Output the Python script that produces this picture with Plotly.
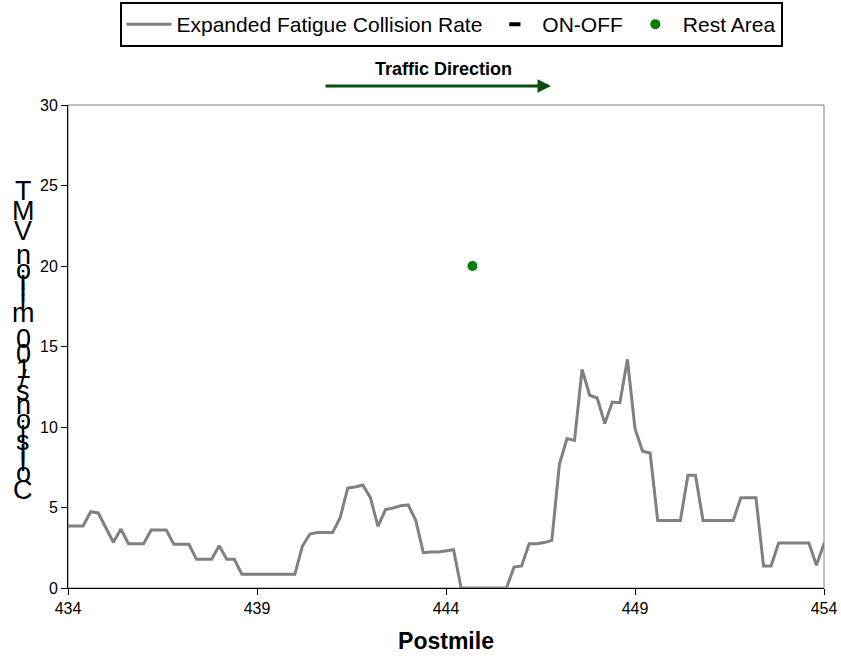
import plotly.graph_objects as go

# Data
postmile = [
    434.0, 434.4, 434.6, 434.8, 435.2, 435.4, 435.6, 436.0, 436.2, 436.6,
    436.8, 437.2, 437.4, 437.8, 438.0, 438.2, 438.4, 438.6, 440.0, 440.2,
    440.4, 440.6, 441.0, 441.2, 441.4, 441.6, 441.8, 442.0, 442.2, 442.4,
    442.6, 442.8, 443.0, 443.2, 443.4, 443.6, 443.8, 444.2, 444.4, 445.6,
    445.8, 446.0, 446.2, 446.4, 446.6, 446.8, 447.0, 447.2, 447.4, 447.6,
    447.8, 448.0, 448.2, 448.4, 448.6, 448.8, 449.0, 449.2, 449.4, 449.6,
    450.2, 450.4, 450.6, 450.8, 451.6, 451.8, 452.2, 452.4, 452.6, 452.8,
    453.6, 453.8, 454.0, 454.2,
]
collision_rate = [
    3.85, 3.85, 4.74, 4.66, 2.84, 3.66, 2.75, 2.75, 3.6, 3.6,
    2.71, 2.71, 1.78, 1.78, 2.63, 1.78, 1.78, 0.85, 0.85, 2.59,
    3.35, 3.44, 3.44, 4.37, 6.21, 6.27, 6.4, 5.61, 3.83, 4.87,
    4.97, 5.11, 5.16, 4.2, 2.19, 2.24, 2.24, 2.38, 0.0, 0.0,
    1.3, 1.37, 2.75, 2.75, 2.82, 2.96, 7.68, 9.28, 9.17, 13.58,
    11.97, 11.8, 10.21, 11.55, 11.51, 14.2, 9.9, 8.49, 8.39, 4.2,
    4.2, 7.0, 7.0, 4.2, 4.2, 5.61, 5.61, 1.37, 1.37, 2.8,
    2.8, 1.41, 2.75, 2.75,
]
on_off_x = [None]
on_off_y = [None]
rest_area_x = [444.7]
rest_area_y = [20.0]

x_ticks = [434, 439, 444, 449, 454]
y_ticks = [0, 5, 10, 15, 20, 25, 30]

y_title = "Collisions/100 million VMT"

FONT = "Liberation Sans, Arial, sans-serif"

W, H = 841, 659
PX0, PX1, PY0, PY1 = 68, 824, 105, 588  # plot area in pixels
L, R, T, B = PX0, W - PX1, PY0, H - PY1
PW, PH = PX1 - PX0, PY1 - PY0


def px(x):
    return (x - PX0) / PW


def py(y):
    return (PY1 - y) / PH


fig = go.Figure()

fig.add_trace(
    go.Scatter(
        name="Expanded Fatigue Collision Rate",
        x=postmile,
        y=collision_rate,
        mode="lines",
        line=dict(color="#808080", width=3),
    )
)
fig.add_trace(
    go.Scatter(
        name="ON-OFF",
        x=on_off_x,
        y=on_off_y,
        mode="markers",
        marker=dict(symbol="line-ew", size=8, color="black",
                    line=dict(color="black", width=4)),
    )
)
fig.add_trace(
    go.Scatter(
        name="Rest Area",
        x=rest_area_x,
        y=rest_area_y,
        mode="markers",
        marker=dict(color="#008000", size=10),
    )
)

# gray frame for top/right, axes drawn on top in black
fig.add_shape(
    type="rect", xref="paper", yref="paper", x0=0, x1=1, y0=0, y1=1,
    line=dict(color="#808080", width=1), layer="below",
)

# stacked y-axis title, characters advance by their Arial width
widths = {"C": 722, "o": 556, "l": 222, "i": 222, "s": 500, "n": 556,
          "/": 278, "1": 556, "0": 556, " ": 278, "m": 833, "V": 667,
          "M": 833, "T": 611}
fs = 27
y_pix = 490.0
prev_w = None
for ch in y_title:
    w = widths[ch] * fs / 1000
    if prev_w is not None:
        y_pix -= (prev_w + w) / 2
    prev_w = w
    if ch == " ":
        continue
    fig.add_annotation(
        text=ch, xref="paper", yref="paper",
        x=px(23), y=py(y_pix),
        showarrow=False, font=dict(family=FONT, size=fs, color="black"),
        xanchor="center", yanchor="middle",
    )

# traffic direction arrow
fig.add_annotation(
    text="<b>Traffic Direction</b>", xref="paper", yref="paper",
    x=px(443), y=py(69), xanchor="center", yanchor="middle",
    showarrow=False, font=dict(family=FONT, size=18, color="black"),
)
fig.add_annotation(
    text="", xref="paper", yref="paper",
    x=px(551), y=py(86),
    ax=-227, ay=0, showarrow=True,
    arrowhead=2, arrowsize=0.9, arrowwidth=3, arrowcolor="#0b4d0b",
)

fig.update_layout(
    width=W,
    height=H,
    margin=dict(l=L, r=R, t=T, b=B, autoexpand=False),
    paper_bgcolor="white",
    plot_bgcolor="white",
    font=dict(family=FONT, size=16, color="black"),
    showlegend=True,
    legend=dict(
        orientation="h",
        x=px(451), xanchor="center",
        y=py(2), yanchor="top",
        bordercolor="black", borderwidth=2,
        font=dict(family=FONT, size=21, color="black"),
        itemwidth=45,
    ),
    xaxis=dict(
        range=[434, 454],
        tickvals=x_ticks,
        ticks="outside", ticklen=6, tickcolor="black",
        showline=True, linecolor="black", linewidth=1,
        showgrid=False, zeroline=False,
        tickfont=dict(size=16),
        ticklabeloverflow="allow",
        title=dict(text="<b>Postmile</b>", font=dict(size=23), standoff=16),
    ),
    yaxis=dict(
        range=[0, 30],
        tickvals=y_ticks,
        ticks="outside", ticklen=6, tickcolor="black",
        showline=True, linecolor="black", linewidth=1,
        showgrid=False, zeroline=False,
        tickfont=dict(size=16),
    ),
)

# drop the default 8px page margin so the figure fills the window
fig.write_html(
    "out.html",
    config={"displayModeBar": False},
    post_script="document.body.style.margin='0';",
)
